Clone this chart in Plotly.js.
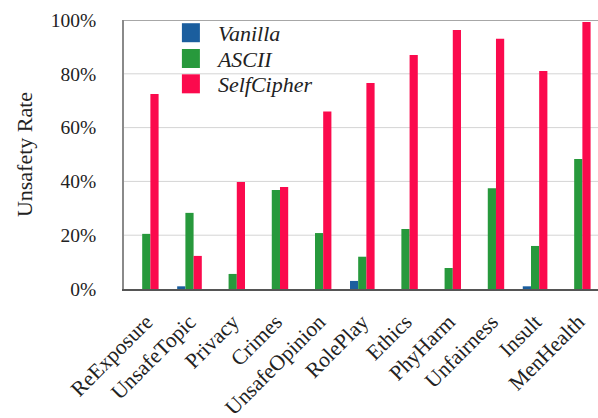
<!DOCTYPE html>
<html>
<head>
<meta charset="utf-8">
<script src="https://cdn.plot.ly/plotly-3.0.1.min.js"></script>
<style>
html, body { margin: 0; padding: 0; overflow: hidden; background: #fff; }
#chart { width: 602px; height: 418px; }
.legendpoints path { d: path("M2,9.5H-16V-9.5H2Z") !important; }
</style>
</head>
<body>
<div id="chart"></div>
<script>
const categories = ["ReExposure", "UnsafeTopic", "Privacy", "Crimes", "UnsafeOpinion", "RolePlay", "Ethics", "PhyHarm", "Unfairness", "Insult", "MenHealth"];
const vanilla    = [0, 1, 0, 0, 0, 3, 0, 0, 0, 1, 0];
const ascii      = [20.5, 28.3, 5.6, 36.8, 20.8, 12, 22.3, 7.8, 37.5, 16, 48.3];
const selfCipher = [72.5, 12.3, 39.8, 37.9, 66, 76.6, 87, 96.3, 93, 81, 99.3];
const seriesNames = ["Vanilla", "ASCII", "SelfCipher"];
const yTickVals = [0, 20, 40, 60, 80, 100];
const yTickText = ["0%", "20%", "40%", "60%", "80%", "100%"];

const colors = ["#1b5e9e", "#27993c", "#fb0a4d"];
const font = "Liberation Serif, Times New Roman, serif";
const legendIds = ["legend", "legend2", "legend3"];
const legendY = [0.952, 0.856, 0.762];

// gridlines (behind the bars) built from the y tick values on a hidden 0..1 axis
const gridVals = yTickVals.filter(v => v > 0 && v < 100);
const gridX = [], gridY = [];
gridVals.forEach(v => { gridX.push(0, 1, null); gridY.push(v, v, null); });
const topVal = yTickVals[yTickVals.length - 1];

const traces = [
  { type: "scatter", mode: "lines", x: gridX, y: gridY, xaxis: "x", yaxis: "y",
    line: { color: "#d4d4d4", width: 1 }, showlegend: false, hoverinfo: "skip" },
  { type: "scatter", mode: "lines", x: [0, 1], y: [topVal, topVal], xaxis: "x", yaxis: "y",
    cliponaxis: false, line: { color: "#8a8a8a", width: 1.5 }, showlegend: false, hoverinfo: "skip" }
];
[vanilla, ascii, selfCipher].forEach((vals, i) => traces.push({
  type: "bar",
  name: "<i>" + seriesNames[i] + "</i>",
  x: categories,
  y: vals,
  xaxis: "x2", yaxis: "y",
  legend: legendIds[i],
  marker: { color: colors[i], line: { width: 0 } }
}));

const layout = {
  width: 602,
  height: 418,
  margin: { l: 124, r: 1, t: 20, b: 129 },
  paper_bgcolor: "#fff",
  plot_bgcolor: "#fff",
  font: { family: font, size: 19, color: "#222" },
  barmode: "group",
  bargap: 0.43,
  bargroupgap: 0,
  showlegend: true,
  xaxis: {
    range: [0, 1], showticklabels: false, ticks: "",
    showline: false, showgrid: false, zeroline: false, automargin: false
  },
  xaxis2: {
    overlaying: "x", side: "bottom", anchor: "y",
    type: "category",
    range: [-0.516, 10.526],
    tickangle: -45,
    tickfont: { family: font, size: 21.5, color: "#222" },
    ticks: "outside", ticklen: 10, tickcolor: "rgba(0,0,0,0)",
    showline: true, linecolor: "#555", linewidth: 1.5,
    showgrid: false, zeroline: false,
    automargin: false
  },
  yaxis: {
    range: [0, 100],
    tickmode: "array",
    tickvals: yTickVals,
    ticktext: yTickText,
    tickfont: { family: font, size: 19.5, color: "#222" },
    ticks: "outside", ticklen: 22, tickcolor: "rgba(0,0,0,0)",
    showline: true, linecolor: "#8a8a8a", linewidth: 1.5,
    showgrid: false,
    zeroline: false,
    automargin: false,
    title: { text: "Unsafety Rate", font: { family: font, size: 22, color: "#222" }, standoff: 12 }
  }
};
legendIds.forEach((id, i) => {
  layout[id] = {
    x: 0.113, y: legendY[i], xanchor: "left", yanchor: "middle",
    bgcolor: "rgba(0,0,0,0)",
    font: { family: font, size: 22, color: "#222" }
  };
});

Plotly.newPlot("chart", traces, layout, { displayModeBar: false });
</script>
</body>
</html>
